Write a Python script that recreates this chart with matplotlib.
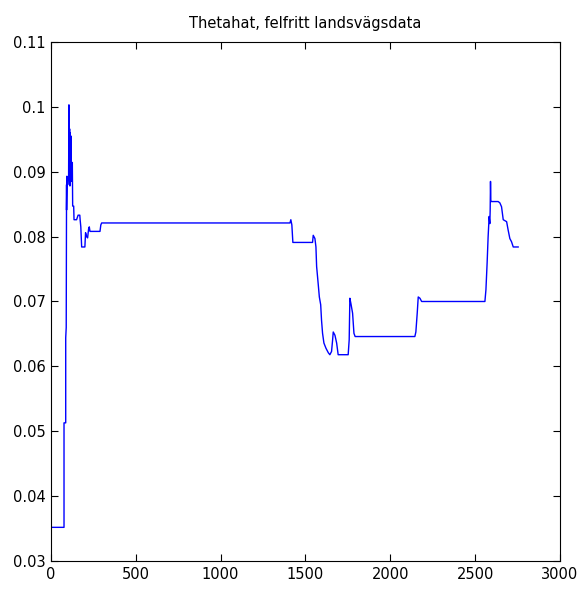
import numpy as np
import matplotlib.pyplot as plt

# estimated parameter trace
xs = [1, 77, 77, 87, 87, 90, 90, 92, 92, 94, 96, 98, 104, 106, 108, 110, 112, 114, 116, 118,
      120, 122, 124, 126, 128, 134, 136, 151, 160, 170, 172, 176, 181, 200, 204, 210, 216, 222,
      226, 230, 289, 294, 299, 1409, 1414, 1420, 1426, 1438, 1542, 1546, 1556, 1562, 1566,
      1576, 1582, 1590, 1595, 1601, 1609, 1621, 1635, 1644, 1654, 1660, 1664, 1674, 1684,
      1693, 1752, 1758, 1762, 1768, 1778, 1786, 1793, 2145, 2151, 2159, 2165, 2175, 2185,
      2558, 2564, 2571, 2577, 2583, 2587, 2589, 2591, 2593, 2597, 2636, 2646, 2656, 2666,
      2686, 2695, 2705, 2715, 2725, 2754]
theta = [0.0352, 0.0352, 0.0513, 0.0513, 0.0644, 0.0660, 0.0660, 0.0880, 0.0841, 0.0893,
         0.0880, 0.0890, 0.0890, 0.1003, 0.0880, 0.0966, 0.0878, 0.0960, 0.0890, 0.0955,
         0.0885, 0.0915, 0.0890, 0.0914, 0.0847, 0.0847, 0.0826, 0.0826, 0.0833, 0.0833,
         0.0826, 0.0815, 0.0784, 0.0784, 0.0806, 0.0800, 0.0798, 0.0812, 0.0815, 0.0808,
         0.0808, 0.0818, 0.0821, 0.0821, 0.0826, 0.0818, 0.0791, 0.0791, 0.0791, 0.0802,
         0.0797, 0.0784, 0.0754, 0.0725, 0.0707, 0.0695, 0.0671, 0.0651, 0.0636, 0.0628,
         0.0621, 0.0618, 0.0623, 0.0640, 0.0653, 0.0648, 0.0636, 0.0618, 0.0618, 0.0641,
         0.0705, 0.0697, 0.0682, 0.0651, 0.0646, 0.0646, 0.0653, 0.0682, 0.0707, 0.0705,
         0.0700, 0.0700, 0.0718, 0.0759, 0.0800, 0.0831, 0.0820, 0.0840, 0.0885, 0.0854,
         0.0854, 0.0854, 0.0852, 0.0846, 0.0826, 0.0823, 0.0810, 0.0797, 0.0792, 0.0784,
         0.0784]

x_ticks = [0, 500, 1000, 1500, 2000, 2500, 3000]
y_ticks = [0.03, 0.04, 0.05, 0.06, 0.07, 0.08, 0.09, 0.1, 0.11]
y_labels = ['0.03', '0.04', '0.05', '0.06', '0.07', '0.08', '0.09', '0.1', '0.11']

plt.rcParams['font.family'] = ['DejaVu Sans']
plt.rcParams['font.size'] = 10.5

fig = plt.figure(figsize=(5.79, 5.90), dpi=100)
ax = fig.add_axes([0.088, 0.049, 0.879, 0.880])
ax.plot(xs, theta, color='#0000ff', linewidth=1.0)

ax.set_xlim(0, 3000)
ax.set_ylim(0.03, 0.11)
ax.set_xticks(x_ticks)
ax.set_yticks(y_ticks, y_labels)
ax.tick_params(direction='in', top=True, right=True, length=5, width=0.8, pad=4)
for s in ax.spines.values():
    s.set_linewidth(0.8)
ax.set_title('Thetahat, felfritt landsvägsdata', fontsize=10.5, pad=10)

fig.savefig('out.png', dpi=100)
